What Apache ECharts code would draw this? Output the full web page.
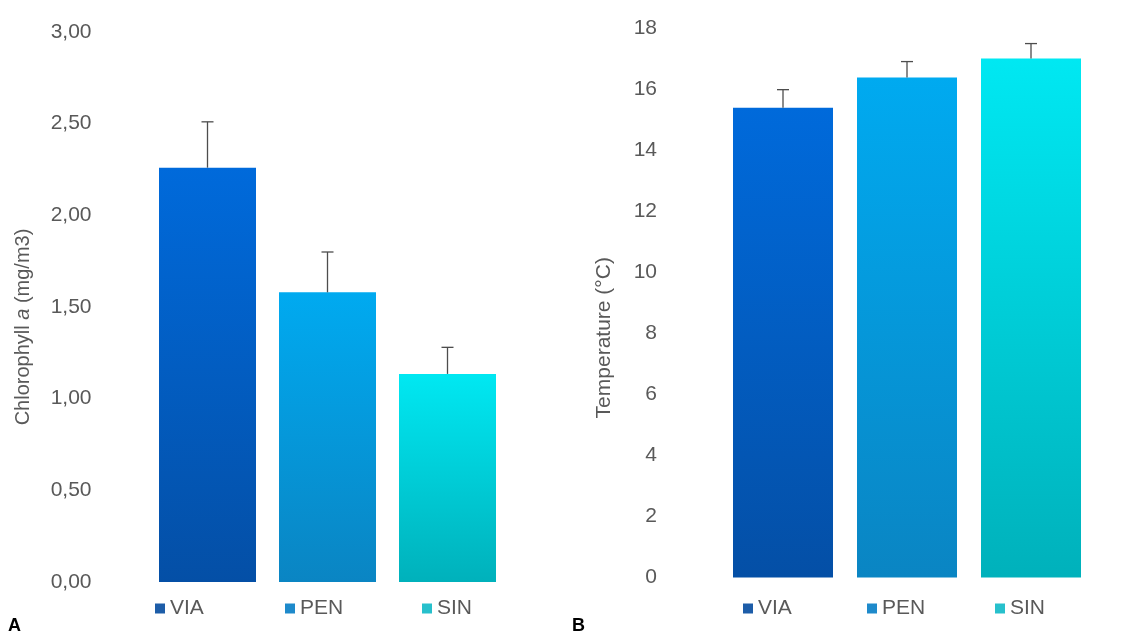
<!DOCTYPE html>
<html>
<head>
<meta charset="utf-8">
<script src="https://cdn.jsdelivr.net/npm/echarts@6/dist/echarts.min.js"></script>
<style>
html,body{margin:0;padding:0;background:#fff;}
#main{width:1121px;height:634px;}
</style>
</head>
<body>
<div id="main"></div>
<script>
// ---- data ----
var categories = ['VIA', 'PEN', 'SIN'];
var chlMean = [2.26, 1.58, 1.135];
var chlUpper = [2.51, 1.80, 1.28];
var tempMean = [15.39, 16.38, 17.0];
var tempUpper = [15.98, 16.9, 17.49];
var chlTicks = ['0,00', '0,50', '1,00', '1,50', '2,00', '2,50', '3,00'];
var tempTicks = ['0', '2', '4', '6', '8', '10', '12', '14', '16', '18'];

// ---- styles ----
var FONT = '"Liberation Sans", Arial, sans-serif';
var TXT = '#595959';
var gradTop = ['#006ADB', '#00AAF0', '#00E8F2'];
var gradBot = ['#044FA6', '#0A85C3', '#00B1BB'];
var legendColors = ['#1D5DA8', '#1E8ACB', '#27C0CC'];

function grad(i) {
  return new echarts.graphic.LinearGradient(0, 0, 0, 1, [
    {offset: 0, color: gradTop[i]}, {offset: 1, color: gradBot[i]}
  ]);
}

function barSeries(means, axisIdx, barW) {
  return categories.map(function (name, i) {
    return {
      name: name, type: 'bar', stack: 'g' + axisIdx,
      xAxisIndex: axisIdx, yAxisIndex: axisIdx,
      barWidth: barW,
      itemStyle: {color: grad(i)},
      emphasis: {disabled: true},
      data: categories.map(function (c, j) { return j === i ? means[j] : '-'; }),
      z: 2
    };
  });
}

function errSeries(means, uppers, axisIdx) {
  return {
    type: 'custom', xAxisIndex: axisIdx, yAxisIndex: axisIdx, z: 5,
    silent: true,
    data: categories.map(function (c, i) { return [i, means[i], uppers[i]]; }),
    renderItem: function (params, api) {
      var p0 = api.coord([api.value(0), api.value(1)]);
      var p1 = api.coord([api.value(0), api.value(2)]);
      var hw = 6;
      var st = {stroke: '#4d4d4d', lineWidth: 1.3};
      return {
        type: 'group',
        children: [
          {type: 'line', shape: {x1: p0[0], y1: p0[1], x2: p1[0], y2: p1[1]}, style: st},
          {type: 'line', shape: {x1: p1[0] - hw, y1: p1[1], x2: p1[0] + hw, y2: p1[1]}, style: st}
        ]
      };
    }
  };
}

function legendAt(i, left) {
  return {
    left: left, top: 598, padding: 0,
    selectedMode: false,
    itemWidth: 10, itemHeight: 10, icon: 'rect',
    textStyle: {color: TXT, fontSize: 21, fontFamily: FONT},
    data: [{name: categories[i], itemStyle: {color: legendColors[i]}}]
  };
}

var chart = echarts.init(document.getElementById('main'), null, {renderer: 'canvas'});
var option = {
  backgroundColor: '#ffffff',
  animation: false,
  grid: [
    {left: 147.5, right: 613.5, top: 32, bottom: 52},
    {left: 721, right: 28, top: 28, bottom: 56.5}
  ],
  xAxis: [0, 1].map(function (g) {
    return {
      type: 'category', gridIndex: g, data: categories,
      axisLine: {show: false}, axisTick: {show: false}, axisLabel: {show: false},
      splitLine: {show: false}
    };
  }),
  yAxis: [
    {
      type: 'value', gridIndex: 0, min: 0, max: 3, interval: 0.5,
      axisLine: {show: false}, axisTick: {show: false}, splitLine: {show: false},
      axisLabel: {
        color: TXT, fontSize: 21, fontFamily: FONT, margin: 56,
        formatter: function (v) { return chlTicks[Math.round(v / 0.5)]; }
      },
      name: '{n|Chlorophyll }{i|a}{n| (mg/m3)}',
      nameLocation: 'middle', nameGap: 114,
      nameTextStyle: {
        padding: [0, 40, 0, 0],
        rich: {
          n: {color: TXT, fontSize: 20, fontFamily: FONT},
          i: {color: TXT, fontSize: 20, fontFamily: FONT, fontStyle: 'italic'}
        }
      }
    },
    {
      type: 'value', gridIndex: 1, min: 0, max: 18, interval: 2,
      axisLine: {show: false}, axisTick: {show: false}, splitLine: {show: false},
      axisLabel: {
        color: TXT, fontSize: 21, fontFamily: FONT, margin: 64,
        formatter: function (v) { return tempTicks[Math.round(v / 2)]; }
      },
      name: 'Temperature (°C)',
      nameLocation: 'middle', nameGap: 106,
      nameTextStyle: {color: TXT, fontSize: 21, fontFamily: FONT, padding: [0, 70, 0, 0]}
    }
  ],
  legend: [
    legendAt(0, 155), legendAt(1, 285), legendAt(2, 422),
    legendAt(0, 743), legendAt(1, 867), legendAt(2, 995)
  ],
  series: [].concat(
    barSeries(chlMean, 0, 97),
    barSeries(tempMean, 1, 100),
    [errSeries(chlMean, chlUpper, 0), errSeries(tempMean, tempUpper, 1)]
  ),
  graphic: [
    {type: 'text', left: 8, top: 617, style: {text: 'A', fill: '#000', font: 'bold 18px ' + FONT}},
    {type: 'text', left: 572, top: 617, style: {text: 'B', fill: '#000', font: 'bold 18px ' + FONT}}
  ]
};
chart.setOption(option);
</script>
</body>
</html>
